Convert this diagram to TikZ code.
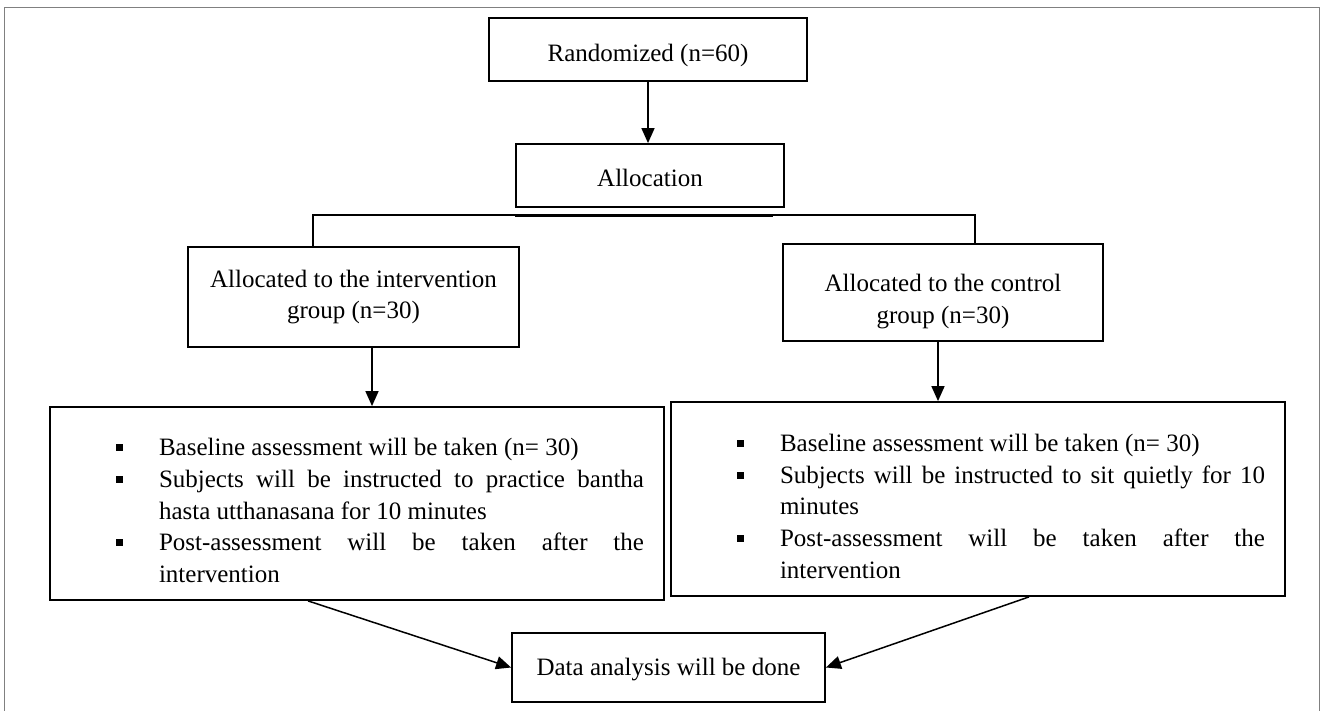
\documentclass[tikz,border=0pt]{standalone}
\usepackage{fontspec}
\setmainfont{Liberation Serif}
\usetikzlibrary{arrows.meta}

\newcommand{\sqitem}{\par\noindent\hangindent=89pt\hangafter=0\llap{\rule[4.5pt]{7pt}{7pt}\hspace{36.5pt}}}

\begin{document}
\begin{tikzpicture}[x=1pt, y=-1pt,
            every node/.style={font=\fontsize{25}{31.7}\selectfont},
            box/.style={draw, line width=1.8pt, align=center, inner sep=0pt},
            listbox/.style={draw, line width=1.8pt, inner xsep=20pt, inner ysep=0pt, text width=574pt, align=justify,
                execute at begin node={\tolerance=10000\hbadness=10000}},
            link/.style={line width=1.5pt},
            arrow/.style={line width=1.5pt, -{Triangle[length=15pt, width=13pt]}}]
            \useasboundingbox (0,0) rectangle (1322,711);
            \draw[gray, line width=1.5pt] (4.5,720) -- (4.5,7.5) -- (1319.5,7.5) -- (1319.5,720);

            \node[box, minimum width=318pt, minimum height=63pt, text height=30pt] (rand) at (648,49.5) {Randomized (n=60)};
            \node[box, minimum width=268pt, minimum height=63pt, text height=23pt, text depth=0pt] (alloc) at (650,175.5) {Allocation};
            \node[box, minimum width=331pt, minimum height=100pt] (interv) at (353.5,297) {Allocated to the intervention\\group (n=30)};
            \node[box, minimum width=320pt, minimum height=97pt] (ctrl) at (943,292.5) {\rule{0pt}{36pt}Allocated to the control\\group (n=30)};
            \node[listbox, minimum height=193pt] (lbox) at (357,503.5) {\sqitem Baseline assessment will be taken (n= 30)
                \sqitem Subjects will be instructed to practice bantha\linebreak hasta utthanasana for 10 minutes
                \sqitem Post-assessment will be taken after the\linebreak intervention\par};
            \node[listbox, minimum height=194pt] (rbox) at (978,499) {\sqitem Baseline assessment will be taken (n= 30)
                \sqitem Subjects will be instructed to sit quietly for 10\linebreak minutes
                \sqitem Post-assessment will be taken after the\linebreak intervention\par};
            \node[box, minimum width=313pt, minimum height=69pt, text height=21pt] (data) at (668.5,667.5) {Data analysis will be done};

            \coordinate (split) at ([yshift=-7pt]alloc.south);
            \coordinate (ia) at ([xshift=18.5pt]interv.south);
            \coordinate (ca) at ([xshift=-5pt]ctrl.south);

            \draw[arrow] (rand.south) -- (rand.south |- alloc.north);
            \draw[link] ([xshift=-40.5pt]interv.north) |- (split) -| ([xshift=32pt]ctrl.north);
            \draw[link] ([yshift=-8pt]alloc.south west) -- ([yshift=-8pt, xshift=-12pt]alloc.south east);
            \draw[arrow] (ia) -- (ia |- lbox.north);
            \draw[arrow] (ca) -- (ca |- rbox.north);
            \draw[arrow] ([xshift=-49pt]lbox.south) -- (data.west);
            \draw[arrow] ([xshift=51pt]rbox.south) -- (data.east);
        \end{tikzpicture}
\end{document}
